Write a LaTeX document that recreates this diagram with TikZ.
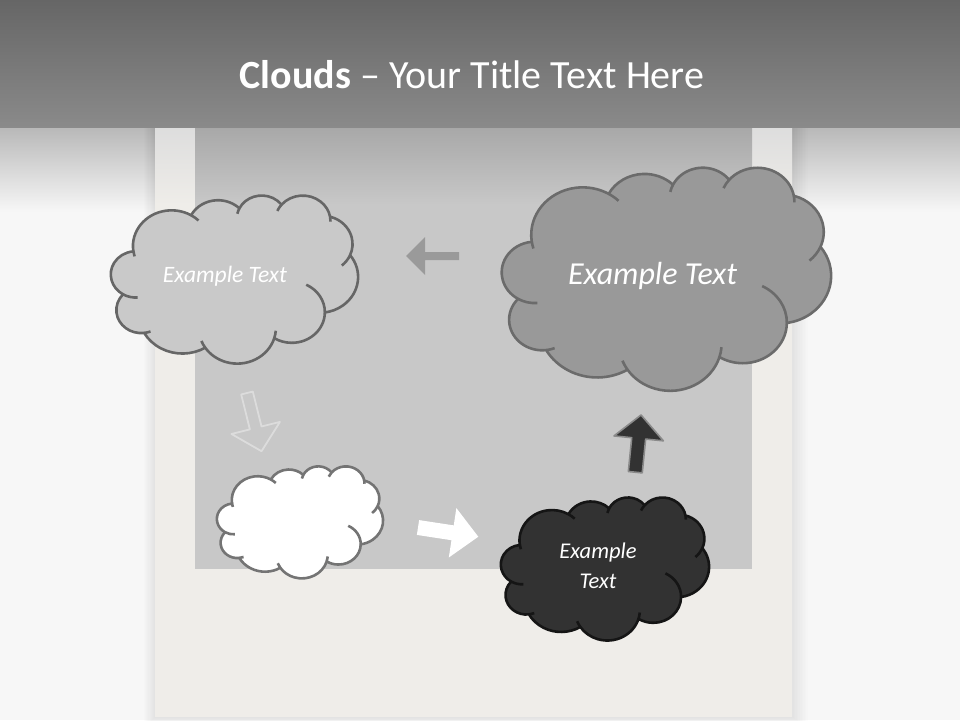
\documentclass[tikz,border=0pt]{standalone}
\usepackage{fontspec}
\setmainfont{Carlito}
\definecolor{pagebg}{HTML}{F7F7F7}
\definecolor{pagetop}{HTML}{B8B8B8}
\definecolor{bartop}{HTML}{666666}
\definecolor{barbot}{HTML}{8A8A8A}
\definecolor{framec}{HTML}{EFEDE9}
\definecolor{frametop}{HTML}{DDDDDD}
\definecolor{innerc}{HTML}{C8C8C8}
\definecolor{innertop}{HTML}{A8A8A8}
\definecolor{cloudA}{HTML}{C9C9C9}
\definecolor{cloudAd}{HTML}{666666}
\definecolor{cloudB}{HTML}{999999}
\definecolor{cloudBd}{HTML}{6B6B6B}
\definecolor{cloudCd}{HTML}{747474}
\definecolor{cloudD}{HTML}{323232}
\definecolor{cloudDd}{HTML}{151515}
\definecolor{arrowgray}{HTML}{9A9A9A}
\definecolor{arrowline}{HTML}{DCDCDC}
\definecolor{arrowdarkd}{HTML}{8A8A8A}
\newcommand\cloudshape[5]{%
\begin{scope}[shift={(#1,#2)}, xscale=#3/432, yscale=#4/432]
\path[#5] (39,143.7)
 arc[start angle=187.745, end angle=59.63, x radius=67.53pt, y radius=91.90pt]
 arc[start angle=152.03, end angle=45.45, x radius=53.33pt, y radius=72.67pt]
 arc[start angle=153.49, end angle=37.33, x radius=43.65pt, y radius=59.45pt]
 arc[start angle=139.69, end angle=10.21, x radius=48.57pt, y radius=65.95pt]
 arc[start angle=74.77, end angle=-23.21, x radius=53.33pt, y radius=72.73pt]
 arc[start angle=37.53, end angle=-81.87, x radius=67.75pt, y radius=92.20pt]
 arc[start angle=-0.46, end angle=-121.98, x radius=57.85pt, y radius=78.67pt]
 arc[start angle=-16.85, end angle=-146.25, x radius=67.52pt, y radius=92.15pt]
 arc[start angle=-58.98, end angle=-150.20, x radius=77.20pt, y radius=105.43pt]
 arc[start angle=-83.31, end angle=-223.12, x radius=43.60pt, y radius=59.18pt]
 arc[start angle=-120.36, end angle=-264.11, x radius=43.45pt, y radius=59.45pt]
 -- cycle;
\path[#5, fill=none]
 (43.08,204.18) ++(-85.55:43.45pt and 59.45pt) arc[start angle=-85.55, end angle=-120.36, x radius=43.45pt, y radius=59.45pt]
 (52.93,295.92) ++(-68.24:43.60pt and 59.18pt) arc[start angle=-68.24, end angle=-83.31, x radius=43.60pt, y radius=59.18pt]
 (220.92,341.43) ++(-146.25:67.52pt and 92.15pt) arc[start angle=-146.25, end angle=-158.47, x radius=67.52pt, y radius=92.15pt]
 (220.92,341.43) ++(-4.74:67.52pt and 92.15pt) arc[start angle=-4.74, end angle=-16.85, x radius=67.52pt, y radius=92.15pt]
 (316.18,301.42) ++(64.03:57.85pt and 78.67pt) arc[start angle=64.03, end angle=-0.46, x radius=57.85pt, y radius=78.67pt]
 (369.16,125.95) ++(-23.21:53.33pt and 72.73pt) arc[start angle=-23.21, end angle=-49.65, x radius=53.33pt, y radius=72.73pt]
 (335.37,67.46) ++(10.21:48.57pt and 65.95pt) arc[start angle=10.21, end angle=-0.82, x radius=48.57pt, y radius=65.95pt]
 (335.37,67.46) ++(156.28:48.57pt and 65.95pt) arc[start angle=156.28, end angle=139.69, x radius=48.57pt, y radius=65.95pt]
 (263.62,60.86) ++(167.72:43.65pt and 59.45pt) arc[start angle=167.72, end angle=153.49, x radius=43.65pt, y radius=59.45pt]
 (105.9,131.3) ++(59.63:67.53pt and 91.90pt) arc[start angle=59.63, end angle=45.74, x radius=67.53pt, y radius=91.90pt]
 (105.9,131.3) ++(-163.19:67.53pt and 91.90pt) arc[start angle=-163.19, end angle=-172.255, x radius=67.53pt, y radius=91.90pt];
\end{scope}}
\begin{document}
\begin{tikzpicture}[x=1pt, y=-1pt, line join=round,
  cloudline/.style={line width=2.6pt},
  cloudtext/.style={text=white, font=\fontsize{#1}{29.6}\selectfont\itshape, inner sep=0pt}]
\useasboundingbox (0,0) rectangle (960,720);
% page background
\fill[pagebg] (0,0) rectangle (960,720);
\shade[top color=pagetop, bottom color=pagebg] (0,127) rectangle (960,212);
% frame shadow
\foreach \i in {1,...,10}
  \fill[black, opacity=0.009] (155-\i*1.1,127) rectangle (792+\i*1.6,717+\i*0.9);
% polaroid frame
\fill[framec] (155,127) rectangle (792,717);
\shade[top color=frametop, bottom color=framec] (155,127) rectangle (792,205);
% inner picture area
\fill[innerc] (195,127) rectangle (752,569);
\shade[top color=innertop, bottom color=innerc] (195,127) rectangle (752,205);
% title bar
\shade[top color=bartop, bottom color=barbot] (0,0) rectangle (960,127);
\node[text=white, font=\fontsize{40}{46}\selectfont, anchor=base, inner sep=0pt] (title) at (472,88)
  {\textbf{Clouds} – Your Title Text Here};
% clouds
\cloudshape{111}{195}{247}{168}{fill=cloudA, draw=cloudAd, cloudline}
\cloudshape{502}{167}{329}{223}{fill=cloudB, draw=cloudBd, cloudline}
\cloudshape{217}{466}{166}{112}{fill=white, draw=cloudCd, cloudline}
\cloudshape{501}{497}{208}{143}{fill=cloudD, draw=cloudDd, cloudline}
% cloud texts
\node[cloudtext=23.5, anchor=base] (t1) at (225,282) {Example Text};
\node[cloudtext=32, anchor=base] (t2) at (652.5,284) {Example Text};
\node[cloudtext=22.5, align=center, anchor=center] (t3) at (598,566) {Example\\Text};
% arrows
\fill[arrowgray] (406,256) -- (425,237) -- (425,252) -- (459,252) -- (459,260) -- (425,260) -- (425,275) -- cycle;
\begin{scope}[shift={(247,393)}, rotate=14]
  \draw[arrowline, line width=1.8pt] (-6,0) -- (6,0) -- (6,36) -- (25,36) -- (0,60) -- (-25,36) -- (-6,36) -- cycle;
\end{scope}
\begin{scope}[shift={(418,527.5)}, rotate=-8.7]
  \fill[white] (0,-7.5) -- (35,-7.5) -- (35,-25) -- (61,0) -- (35,25) -- (35,7.5) -- (0,7.5) -- cycle;
\end{scope}
\begin{scope}[shift={(635.3,472.2)}, rotate=-5.7]
  \filldraw[fill=cloudD, draw=arrowdarkd, line width=1.6pt] (-7,0) -- (-7,-34) -- (-24.8,-34) -- (0,-57.5) -- (24.8,-34) -- (7,-34) -- (7,0) -- cycle;
\end{scope}
\end{tikzpicture}
\end{document}
